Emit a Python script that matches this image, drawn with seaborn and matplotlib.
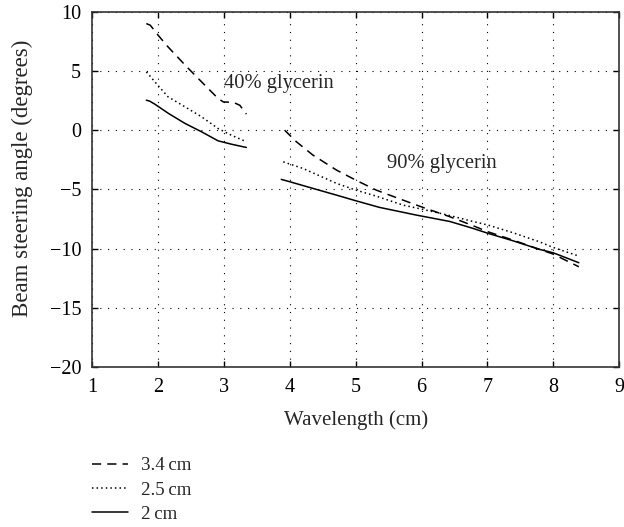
import matplotlib
matplotlib.use("Agg")
import matplotlib.pyplot as plt
import seaborn as sns
import pandas as pd
import numpy as np

# ---- data ----
# 40% glycerin segment
x40_34 = [1.82, 1.88, 2.0, 2.15, 2.41, 2.66, 2.91, 2.99, 3.14, 3.24, 3.34]
y40_34 = [8.99, 8.85, 8.0, 7.02, 5.48, 4.07, 2.67, 2.38, 2.35, 2.1, 1.35]
x40_25 = [1.82, 1.87, 1.95, 2.15, 2.41, 2.66, 2.91, 3.11, 3.34]
y40_25 = [4.91, 4.6, 4.07, 2.81, 1.96, 1.12, 0.14, -0.42, -0.98]
x40_20 = [1.82, 1.87, 1.95, 2.16, 2.41, 2.66, 2.91, 3.11, 3.34]
y40_20 = [2.53, 2.45, 2.19, 1.40, 0.56, -0.14, -0.90, -1.18, -1.46]
# 90% glycerin segment
x90_34 = [3.92, 4.10, 4.35, 4.71, 5.0, 5.31, 5.72, 6.02, 6.43, 6.78, 7.01, 7.39, 7.79, 8.0, 8.2, 8.39]
y90_34 = [0.0, -0.98, -2.1, -3.37, -4.21, -5.05, -5.9, -6.51, -7.3, -8.05, -8.57, -9.27, -10.05, -10.45, -11.0, -11.52]
x90_25 = [3.90, 4.2, 4.71, 5.0, 5.31, 5.72, 6.02, 6.43, 6.78, 7.01, 7.39, 7.79, 8.0, 8.39]
y90_25 = [-2.67, -3.23, -4.49, -5.05, -5.56, -6.32, -6.68, -7.2, -7.7, -8.0, -8.65, -9.41, -9.89, -10.62]
x90_20 = [3.87, 4.0, 4.35, 4.71, 5.0, 5.36, 5.92, 6.43, 6.78, 7.01, 7.39, 7.79, 8.0, 8.39]
y90_20 = [-4.15, -4.35, -4.91, -5.48, -5.95, -6.51, -7.16, -7.7, -8.28, -8.70, -9.33, -10.05, -10.34, -11.18]

series_labels = ["3.4\u2009cm", "2.5\u2009cm", "2\u2009cm"]
x_ticks = [1, 2, 3, 4, 5, 6, 7, 8, 9]
y_ticks = [-20, -15, -10, -5, 0, 5, 10]

sns.set_theme(style="white")
plt.rcParams["font.family"] = ["Liberation Serif", "DejaVu Serif"]
plt.rcParams["mathtext.fontset"] = "stix"

fig = plt.figure(figsize=(6.24, 5.27), dpi=100)
ax = fig.add_axes([0.148, 0.303, 0.844, 0.675])

styles = [(0, (6, 4)), (0, (1, 2)), "-"]
groups = [
    [(x40_34, y40_34), (x90_34, y90_34)],
    [(x40_25, y40_25), (x90_25, y90_25)],
    [(x40_20, y40_20), (x90_20, y90_20)],
]
for lab, ls, segs in zip(series_labels, styles, groups):
    for i, (xs, ys) in enumerate(segs):
        df = pd.DataFrame({"x": xs, "y": ys})
        sns.lineplot(data=df, x="x", y="y", ax=ax, color="black",
                     linewidth=1.1, linestyle=ls, sort=False, estimator=None,
                     label=lab if i == 0 else None, legend=False)

ax.set_xlim(1, 9)
ax.set_ylim(-20, 10)
ax.set_xticks(x_ticks)
ax.set_yticks(y_ticks)
ax.set_yticklabels([("\u2212" + str(-t)) if t < 0 else str(t) for t in y_ticks])
ax.grid(True, color="black", linestyle=(0, (1, 6)), linewidth=0.8)
ax.tick_params(direction="in", length=4, width=1, top=True, right=True,
               bottom=True, left=True, labelsize=14.5, colors="black")
ax.tick_params(axis="x", pad=8)
ax.tick_params(axis="y", pad=8)
for s in ax.spines.values():
    s.set_color("#333333")
    s.set_linewidth(1.2)

ax.set_xlabel("Wavelength (cm)", fontsize=15, labelpad=9)
ax.set_ylabel("Beam steering angle (degrees)", fontsize=16.5)
ax.yaxis.set_label_coords(-0.112, 0.53)

ax.text(3.0, 3.96, "40% glycerin", fontsize=14.8, va="center", ha="left")
ax.text(5.47, -2.8, "90% glycerin", fontsize=14.8, va="center", ha="left")

handles, labels = ax.get_legend_handles_labels()
fig.legend(handles, labels, loc="upper left", bbox_to_anchor=(92 / 624, 1 - 457 / 527),
           frameon=False, fontsize=13.6, handlelength=1.9, handletextpad=0.7,
           labelspacing=0.38, borderpad=0, borderaxespad=0)

fig.savefig("out.png", dpi=100)
